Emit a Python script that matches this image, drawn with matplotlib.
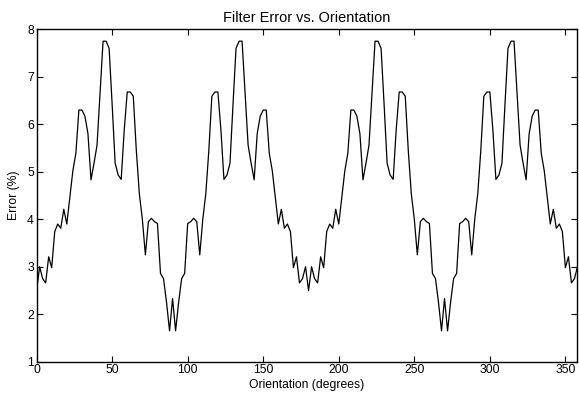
import matplotlib
matplotlib.use('Agg')
import numpy as np
from matplotlib import pyplot as plt

# orientation sampled every 2 degrees, 0..358
orientation = np.arange(0, 360, 2)

error = [
    2.5, 3.0, 2.75, 2.66, 3.21, 2.98, 3.74, 3.9, 3.81, 4.21,
    3.9, 4.47, 5.02, 5.39, 6.3, 6.3, 6.17, 5.8, 4.83, 5.18,
    5.56, 6.65, 7.75, 7.75, 7.6, 6.42, 5.18, 4.93, 4.84, 5.88,
    6.68, 6.68, 6.59, 5.45, 4.54, 4.0, 3.25, 3.95, 4.02, 3.95,
    3.91, 2.86, 2.75, 2.25, 1.65, 2.33, 1.65, 2.25, 2.75, 2.86,
    3.91, 3.95, 4.02, 3.95, 3.25, 4.0, 4.54, 5.45, 6.59, 6.68,
    6.68, 5.88, 4.84, 4.93, 5.18, 6.42, 7.6, 7.75, 7.75, 6.65,
    5.56, 5.18, 4.83, 5.8, 6.17, 6.3, 6.3, 5.39, 5.02, 4.47,
    3.9, 4.21, 3.81, 3.9, 3.74, 2.98, 3.21, 2.66, 2.75, 3.0,
    2.5, 3.0, 2.75, 2.66, 3.21, 2.98, 3.74, 3.9, 3.81, 4.21,
    3.9, 4.47, 5.02, 5.39, 6.3, 6.3, 6.17, 5.8, 4.83, 5.18,
    5.56, 6.65, 7.75, 7.75, 7.6, 6.42, 5.18, 4.93, 4.84, 5.88,
    6.68, 6.68, 6.59, 5.45, 4.54, 4.0, 3.25, 3.95, 4.02, 3.95,
    3.91, 2.86, 2.75, 2.25, 1.65, 2.33, 1.65, 2.25, 2.75, 2.86,
    3.91, 3.95, 4.02, 3.95, 3.25, 4.0, 4.54, 5.45, 6.59, 6.68,
    6.68, 5.88, 4.84, 4.93, 5.18, 6.42, 7.6, 7.75, 7.75, 6.65,
    5.56, 5.18, 4.83, 5.8, 6.17, 6.3, 6.3, 5.39, 5.02, 4.47,
    3.9, 4.21, 3.81, 3.9, 3.74, 2.98, 3.21, 2.66, 2.75, 3.0,
]

x_ticks = [0, 50, 100, 150, 200, 250, 300, 350]
y_ticks = [1, 2, 3, 4, 5, 6, 7, 8]

plt.rcParams['font.family'] = ['Liberation Sans', 'DejaVu Sans']
plt.rcParams['font.size'] = 8.7

fig = plt.figure(figsize=(5.79, 3.93), dpi=100)
ax = fig.add_axes([0.0632, 0.0796, 0.9342, 0.8458])

ax.plot(orientation, error, color='black', linewidth=0.9)

ax.set_xlim(0, 358)
ax.set_ylim(1, 8)
ax.set_xticks(x_ticks)
ax.set_yticks(y_ticks)
ax.tick_params(direction='in', top=True, right=True, length=4, width=0.8, pad=2)
for s in ax.spines.values():
    s.set_linewidth(1.0)

ax.set_title('Filter Error vs. Orientation', pad=5)
ax.set_xlabel('Orientation (degrees)', labelpad=1.5)
ax.set_ylabel('Error (%)', labelpad=5)

plt.savefig('out.png', dpi=100)
plt.close()
